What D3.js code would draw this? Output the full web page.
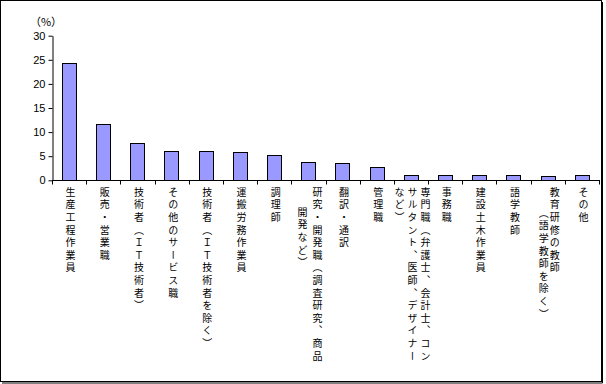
<!DOCTYPE html>
<html>
<head>
<meta charset="utf-8">
<script src="https://cdn.jsdelivr.net/npm/d3@7"></script>
<style>
  body { margin: 0; background: #fff; }
  svg { display: block; }
</style>
</head>
<body>
<div id="chart"></div>
<script>
// categories, one entry per bar; each entry holds the label's lines (columns)
const CATEGORIES = [
    ["生産工程作業員"],
    ["販売・営業職"],
    ["技術者（ＩＴ技術者）"],
    ["その他のサービス職"],
    ["技術者（ＩＴ技術者を除く）"],
    ["運搬労務作業員"],
    ["調理師"],
    ["研究・開発職（調査研究、商品", "開発など）"],
    ["翻訳・通訳"],
    ["管理職"],
    ["専門職（弁護士、会計士、コン", "サルタント、医師、デザイナー", "など）"],
    ["事務職"],
    ["建設土木作業員"],
    ["語学教師"],
    ["教育研修の教師", "（語学教師を除く）"],
    ["その他"]
];
const VALUES = [24.3, 11.6, 7.7, 6.0, 6.0, 5.8, 5.2, 3.9, 3.5, 2.7, 1.2, 1.0, 1.0, 1.0, 0.8, 1.2];
const Y_TICKS = [0, 5, 10, 15, 20, 25, 30];
const UNIT_LABEL = "（%）";

// per-label line layout (gap between columns, downward shift of later columns)
const LINE_GAP = [13, 13, 13, 13, 13, 13, 13, 15, 13, 13, 13, 13, 13, 13, 11, 13];
const LINE_SHIFT = [0, 0, 0, 0, 0, 0, 0, 20, 0, 0, 0, 0, 0, 0, 21, 0];

const W = 606, H = 384;
const PLOT = { left: 52, right: 599, top: 35.7, bottom: 180.3 };

const svg = d3.select("#chart").append("svg")
    .attr("width", W)
    .attr("height", H);

// outer frame with a small shadow on right / bottom
svg.append("rect")
    .attr("x", 0.5).attr("y", 0.5)
    .attr("width", 601).attr("height", 381)
    .attr("fill", "#fff")
    .attr("stroke", "#000");
svg.append("path")
    .attr("d", "M602.5,2 V383 H2")
    .attr("fill", "none")
    .attr("stroke", "#000");

const x = d3.scaleBand()
    .domain(d3.range(CATEGORIES.length))
    .range([PLOT.left, PLOT.right])
    .paddingInner(0.58)
    .paddingOuter(0.29);

const y = d3.scaleLinear()
    .domain([0, 30])
    .range([PLOT.bottom, PLOT.top]);

// bars
svg.append("g")
    .selectAll("rect")
    .data(VALUES)
    .enter()
    .append("rect")
    .attr("x", (d, i) => Math.round(x(i)) + 0.5)
    .attr("y", d => Math.round(y(d)) + 0.5)
    .attr("width", Math.round(x.bandwidth()))
    .attr("height", d => Math.round(y(0)) - Math.round(y(d)))
    .attr("fill", "#9999ff")
    .attr("stroke", "#000")
    .attr("stroke-width", 1);

// y axis
const yAxis = svg.append("g")
    .attr("transform", "translate(" + (PLOT.left + 0.5) + ",0)")
    .call(d3.axisLeft(y).tickValues(Y_TICKS).tickSize(4).tickSizeOuter(0));
yAxis.select(".domain").attr("stroke", "#000");
yAxis.selectAll("text")
    .attr("font-family", "Liberation Sans, Arial, sans-serif")
    .attr("font-size", 11)
    .attr("fill", "#000")
    .attr("x", -7);

// x axis: line plus ticks at band boundaries
const xAxisG = svg.append("g");
const step = x.step();
const start = PLOT.left;
xAxisG.append("line")
    .attr("x1", PLOT.left).attr("x2", PLOT.right + 1)
    .attr("y1", Math.round(y(0)) + 0.5).attr("y2", Math.round(y(0)) + 0.5)
    .attr("stroke", "#000");
xAxisG.selectAll("line.tick")
    .data(d3.range(CATEGORIES.length + 1))
    .enter()
    .append("line")
    .attr("class", "tick")
    .attr("x1", i => Math.round(start + i * step) + 0.5)
    .attr("x2", i => Math.round(start + i * step) + 0.5)
    .attr("y1", Math.round(y(0)) + 0.5)
    .attr("y2", Math.round(y(0)) + 4.5)
    .attr("stroke", "#000");

// unit label
svg.append("text")
    .attr("x", 46)
    .attr("y", 26)
    .attr("text-anchor", "middle")
    .attr("font-family", "Noto Sans CJK JP, sans-serif")
    .attr("font-size", 11)
    .text(UNIT_LABEL);

// vertical category labels
const labels = svg.append("g");
CATEGORIES.forEach((lines, i) => {
    const cx = x(i) + x.bandwidth() / 2 + 1.5;
    const gap = LINE_GAP[i];
    const n = lines.length;
    lines.forEach((line, j) => {
        const lx = cx + ((n - 1) / 2 - j) * gap;
        labels.append("text")
            .attr("x", lx)
            .attr("y", 187 + (j > 0 ? LINE_SHIFT[i] : 0))
            .attr("font-family", "Noto Sans CJK JP, sans-serif")
            .attr("font-size", 10)
            .style("writing-mode", "vertical-rl")
            .style("letter-spacing", "2.6px")
            .attr("fill", "#000")
            .text(line);
    });
});
</script>
</body>
</html>
